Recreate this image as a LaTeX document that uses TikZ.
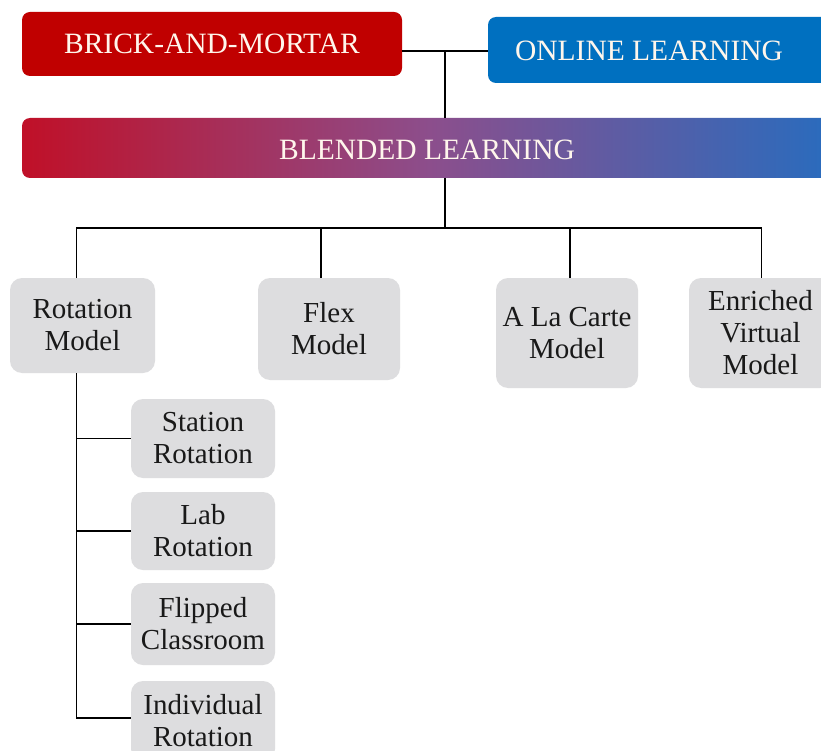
\documentclass[tikz,border=0pt]{standalone}
\usepackage{fontspec}
\setmainfont{Liberation Serif}
\usetikzlibrary{calc}
\definecolor{brickred}{RGB}{192,0,0}
\definecolor{onlineblue}{RGB}{0,112,192}
\definecolor{blendL}{RGB}{192,16,40}
\definecolor{blendM}{RGB}{140,78,140}
\definecolor{blendR}{RGB}{40,108,190}
\definecolor{boxgray}{RGB}{221,221,223}
\definecolor{captext}{RGB}{255,246,236}
\begin{document}
\begin{tikzpicture}[x=1pt,y=-1pt,
  topbox/.style={rounded corners=8pt, inner sep=0pt, outer sep=0pt, anchor=north west,
     text=captext, font=\fontsize{29.5}{32}\selectfont},
  graybox/.style={rounded corners=12pt, fill=boxgray, inner sep=0pt, outer sep=0pt,
     anchor=north west, align=center, text=black!90, font=\fontsize{29}{32}\selectfont},
  conn/.style={draw=black, line width=1.6pt}]
\clip (0,0) rectangle (821,751);
\fill[white] (0,0) rectangle (821,751);

% top boxes
\node[topbox, fill=brickred, minimum width=380pt, minimum height=64pt] (brick) at (22,12) {BRICK-AND-MORTAR};
\node[topbox, fill=onlineblue, minimum width=350pt, minimum height=66pt] (online) at (488,17) {};
\node[text=captext, font=\fontsize{29.5}{32}\selectfont, inner sep=0pt] (onlinetxt) at (649,51) {ONLINE LEARNING};

\node[topbox, left color=blendL, right color=blendR, middle color=blendM, minimum width=815pt, minimum height=60pt] (blend) at (22,118) {};
\node[text=captext, font=\fontsize{29.5}{32}\selectfont, inner sep=0pt] (blendtxt) at (427,150) {BLENDED LEARNING};

% models
\node[graybox, minimum width=145pt, minimum height=95pt] (rot) at (10,278) {Rotation\\Model};
\node[graybox, minimum width=142pt, minimum height=102pt] (flex) at (258,278) {Flex\\Model};
\node[graybox, minimum width=142pt, minimum height=110pt] (alc) at (496,278) {A La Carte\\Model};
\node[graybox, minimum width=143pt, minimum height=110pt] (ev) at (689,278) {Enriched\\Virtual\\Model};

% sub models
\node[graybox, minimum width=144pt, minimum height=79pt] (st) at (131,399) {Station\\Rotation};
\node[graybox, minimum width=144pt, minimum height=78pt] (lab) at (131,492) {Lab\\Rotation};
\node[graybox, minimum width=144pt, minimum height=82pt] (fc) at (131,583) {Flipped\\Classroom};
\node[graybox, minimum width=144pt, minimum height=80pt] (ind) at (131,681) {Individual\\Rotation};

% connectors
\coordinate (j) at (445,51);
\coordinate (bus) at (445,228);
\draw[conn] (brick.east |- j) -- (online.west |- j);
\draw[conn] (j) -- (blend.north -| j);
\draw[conn] (blend.south -| bus) -- (bus);
\coordinate (rx) at ($(rot.north)+(-6,0)$);
\coordinate (fx) at ($(flex.north)+(-8,0)$);
\coordinate (ax) at ($(alc.north)+(3,0)$);
\coordinate (ex) at ($(ev.north)+(1,0)$);
\draw[conn] (rx) -- (rx |- bus) -- (ex |- bus) -- (ex);
\draw[conn] (fx) -- (fx |- bus);
\draw[conn] (ax) -- (ax |- bus);
\coordinate (spine) at ($(rot.south)+(-6,0)$);
\draw[conn] (spine) -- (spine |- 0,718) -- (ind.west |- 0,718);
\draw[conn] (spine |- st.west) -- (st.west);
\draw[conn] (spine |- lab.west) -- (lab.west);
\draw[conn] (spine |- fc.west) -- (fc.west);
\end{tikzpicture}
\end{document}
